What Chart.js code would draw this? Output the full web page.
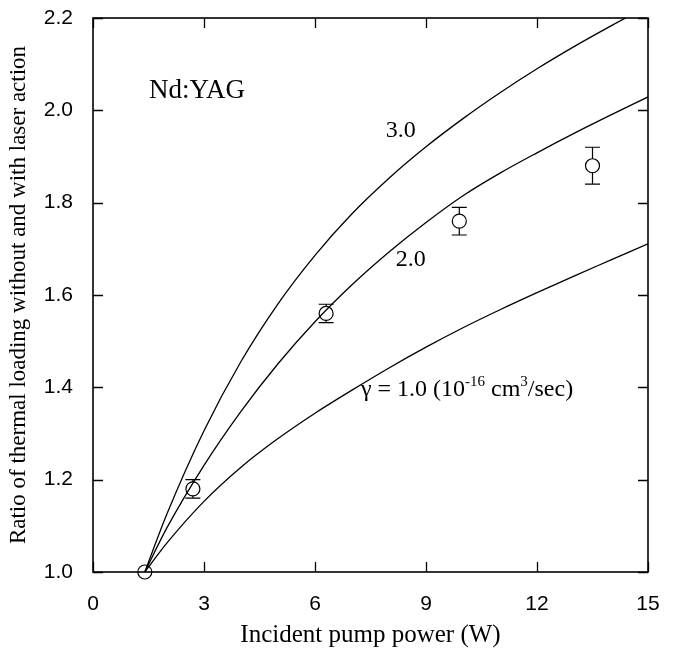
<!DOCTYPE html>
<html>
<head>
<meta charset="utf-8">
<script src="https://cdn.jsdelivr.net/npm/chart.js@4/dist/chart.umd.min.js"></script>
<style>
  html, body { margin: 0; padding: 0; background: #fff; }
  #wrap { width: 673px; height: 653px; }
</style>
</head>
<body>
<div id="wrap"><canvas id="c" width="673" height="653"></canvas></div>
<script>
// ---- data ----
const xTicks = [0, 3, 6, 9, 12, 15];
const yTicks = [1.0, 1.2, 1.4, 1.6, 1.8, 2.0, 2.2];

const curveX = [1.4, 2.0, 3.0, 4.0, 5.0, 6.0, 7.0, 8.0, 9.0, 10.0, 11.0, 12.0, 13.0, 14.0, 15.0];
const curveY3 = [1.0, 1.126, 1.306, 1.456, 1.581, 1.686, 1.776, 1.853, 1.921, 1.982, 2.038, 2.090, 2.138, 2.183, 2.226];
const curveY2 = [1.0, 1.096, 1.231, 1.348, 1.451, 1.542, 1.622, 1.693, 1.757, 1.815, 1.864, 1.908, 1.950, 1.990, 2.029];
const curveY1 = [1.0, 1.063, 1.153, 1.227, 1.289, 1.344, 1.394, 1.442, 1.487, 1.529, 1.568, 1.605, 1.641, 1.676, 1.711];

const measX   = [1.4, 2.7, 6.3, 9.9, 13.5];
const measY   = [1.0, 1.18, 1.56, 1.76, 1.88];
const measErr = [0.0, 0.02, 0.02, 0.03, 0.04];

const labelNd    = { text: 'Nd:YAG', x: 2.81, y: 2.042 };
const label3     = { text: '3.0', x: 8.32, y: 1.955 };
const label2     = { text: '2.0', x: 8.59, y: 1.676 };
const labelGamma = { x: 7.24, y: 1.381 };

const xTitle = 'Incident pump power (W)';
const yTitle = 'Ratio of thermal loading without and with laser action';

// ---- helpers ----
const toPts = (xs, ys) => xs.map((x, i) => ({ x: x, y: ys[i] }));
const SERIF = '"Liberation Serif", "Times New Roman", serif';
const SANS = '"Liberation Sans", Arial, sans-serif';

const lineDs = (xs, ys) => ({
  data: toPts(xs, ys),
  showLine: true,
  borderColor: '#000',
  borderWidth: 1.3,
  pointRadius: 0,
  cubicInterpolationMode: 'monotone',
  fill: false,
  clip: 0
});

const decor = {
  id: 'decor',
  afterDatasetsDraw(chart) {
    const ctx = chart.ctx;
    const xs = chart.scales.x, ys = chart.scales.y;
    const a = chart.chartArea;
    ctx.save();
    ctx.strokeStyle = '#000';
    // frame
    ctx.lineWidth = 1.6;
    ctx.strokeRect(a.left, a.top, a.right - a.left, a.bottom - a.top);
    // inward ticks on all four sides
    const tl = 10;
    ctx.lineWidth = 1.3;
    ctx.beginPath();
    xTicks.forEach(v => {
      const px = Math.round(xs.getPixelForValue(v)) + 0.5;
      ctx.moveTo(px, a.bottom); ctx.lineTo(px, a.bottom - tl);
      ctx.moveTo(px, a.top); ctx.lineTo(px, a.top + tl);
    });
    yTicks.forEach(v => {
      const py = Math.round(ys.getPixelForValue(v)) + 0.5;
      ctx.moveTo(a.left, py); ctx.lineTo(a.left + tl, py);
      ctx.moveTo(a.right, py); ctx.lineTo(a.right - tl, py);
    });
    ctx.stroke();
    // error bars
    const r = 7, cap = 7.5;
    ctx.lineWidth = 1.2;
    ctx.beginPath();
    measX.forEach((x, i) => {
      if (!measErr[i]) return;
      const px = xs.getPixelForValue(x);
      const pc = ys.getPixelForValue(measY[i]);
      const ph = ys.getPixelForValue(measY[i] + measErr[i]);
      const pl = ys.getPixelForValue(measY[i] - measErr[i]);
      if (pc - r > ph) { ctx.moveTo(px, pc - r); ctx.lineTo(px, ph); }
      if (pc + r < pl) { ctx.moveTo(px, pc + r); ctx.lineTo(px, pl); }
      ctx.moveTo(px - cap, ph); ctx.lineTo(px + cap, ph);
      ctx.moveTo(px - cap, pl); ctx.lineTo(px + cap, pl);
    });
    ctx.stroke();
    // text annotations
    ctx.fillStyle = '#000';
    ctx.textAlign = 'center';
    ctx.textBaseline = 'middle';
    ctx.font = '27px ' + SERIF;
    ctx.fillText(labelNd.text, xs.getPixelForValue(labelNd.x), ys.getPixelForValue(labelNd.y));
    ctx.font = '24px ' + SERIF;
    ctx.fillText(label3.text, xs.getPixelForValue(label3.x), ys.getPixelForValue(label3.y));
    ctx.fillText(label2.text, xs.getPixelForValue(label2.x), ys.getPixelForValue(label2.y));
    // gamma label with superscripts
    ctx.textAlign = 'left';
    ctx.textBaseline = 'alphabetic';
    let gx = xs.getPixelForValue(labelGamma.x);
    const gy = ys.getPixelForValue(labelGamma.y);
    const parts = [
      ['\u03B3 = 1.0 (10', false],
      ['-16', true],
      [' cm', false],
      ['3', true],
      ['/sec)', false]
    ];
    parts.forEach(([t, sup]) => {
      ctx.font = (sup ? '15px ' : '24px ') + SERIF;
      ctx.fillText(t, gx, sup ? gy - 10 : gy);
      gx += ctx.measureText(t).width;
    });
    ctx.restore();
  }
};

new Chart(document.getElementById('c'), {
  type: 'scatter',
  data: {
    datasets: [
      lineDs(curveX, curveY3),
      lineDs(curveX, curveY2),
      lineDs(curveX, curveY1),
      {
        data: toPts(measX, measY),
        showLine: false,
        clip: false,
        pointRadius: 7,
        pointHoverRadius: 7,
        pointBorderWidth: 1.2,
        pointBorderColor: '#000',
        pointBackgroundColor: 'rgba(0,0,0,0)'
      }
    ]
  },
  options: {
    responsive: false,
    animation: false,
    events: [],
    layout: { padding: { top: 18, right: 25, left: 0, bottom: 0 } },
    plugins: { legend: { display: false }, tooltip: { enabled: false } },
    scales: {
      x: {
        type: 'linear', min: 0, max: 15,
        afterFit: s => { s.height = 81; s.paddingLeft = 0; s.paddingRight = 0; },
        afterBuildTicks: s => { s.ticks = xTicks.map(v => ({ value: v })); },
        grid: { display: false },
        border: { display: false },
        ticks: { color: '#000', font: { family: SANS, size: 21 }, padding: 12, maxRotation: 0,
                 callback: v => String(v) },
        title: { display: true, text: xTitle, color: '#000',
                 font: { family: SERIF, size: 25 }, padding: { top: 0, bottom: 3 } }
      },
      y: {
        type: 'linear', min: 1.0, max: 2.2,
        afterFit: s => { s.width = 93; s.paddingTop = 0; s.paddingBottom = 0; },
        afterBuildTicks: s => { s.ticks = yTicks.map(v => ({ value: v })); },
        grid: { display: false },
        border: { display: false },
        ticks: { color: '#000', font: { family: SANS, size: 21 }, padding: 12,
                 callback: v => Number(v).toFixed(1) },
        title: { display: true, text: yTitle, color: '#000',
                 font: { family: SERIF, size: 23 }, padding: { top: 5, bottom: 0 } }
      }
    }
  },
  plugins: [decor]
});
</script>
</body>
</html>
